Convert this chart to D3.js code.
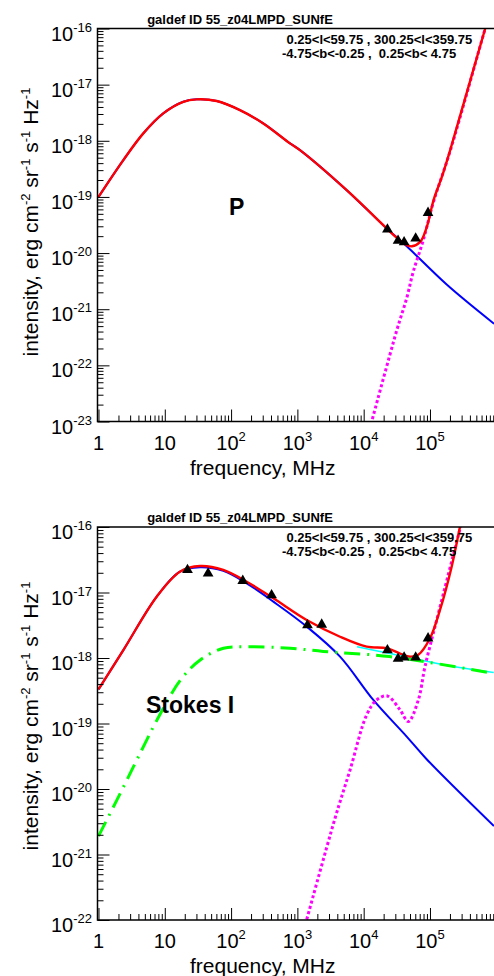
<!DOCTYPE html>
<html>
<head>
<meta charset="utf-8">
<script src="https://cdn.jsdelivr.net/npm/d3@7"></script>
<style>
  body { margin: 0; background: #fff; }
  svg { display: block; font-family: "Liberation Sans", Arial, Helvetica, sans-serif; }
  text { white-space: pre; }
</style>
</head>
<body>
<svg id="chart" width="494" height="976"></svg>
<script>
// frequency axis (MHz) tick labels: [base, exponent]
var freqTicks = [1, 10, 100, 1e3, 1e4, 1e5];
var freqTickLabels = [["1", ""], ["10", ""], ["10", "2"], ["10", "3"], ["10", "4"], ["10", "5"]];

// intensity axis exponents for each panel
var pExponents = [-23, -22, -21, -20, -19, -18, -17, -16];
var iExponents = [-22, -21, -20, -19, -18, -17, -16];

// header texts
var titleText = "galdef ID 55_z04LMPD_SUNfE";
var regionLine1 = "0.25<l<59.75 , 300.25<l<359.75";
var regionLine2 = "-4.75<b<-0.25 ,  0.25<b< 4.75";

// measured points, polarized (WMAP bands)
var pDataFreq = [22800, 33000, 40700, 60800, 93500];
var pDataVal = [2.64e-20, 1.66e-20, 1.56e-20, 1.82e-20, 5.21e-20];

// measured points, Stokes I (radio surveys + WMAP)
var iDataFreq = [22, 45, 150, 408, 1420, 2326, 22800, 33000, 40700, 60800, 93500];
var iDataVal = [2.21e-17, 1.96e-17, 1.51e-17, 9.12e-18, 3.16e-18, 3.24e-18, 1.32e-18, 9.77e-19, 1.02e-18, 1.02e-18, 2.0e-18];

// P panel: synchrotron (blue)
var pSyncFreq = [1, 2.37, 4.74, 9.49, 19.0, 30.3, 60.7, 136, 306, 773, 1094, 5546, 22230, 44570, 178600, 926800];
var pSyncVal = [1.0e-19, 4.53e-19, 1.355e-18, 3.08e-18, 4.95e-18, 5.47e-18, 5.11e-18, 3.52e-18, 2.04e-18, 8.99e-19, 6.82e-19, 1.32e-19, 2.75e-20, 1.32e-20, 2.75e-21, 5.50e-22];

// P panel: dust (magenta dotted)
var pDustFreq = [12880, 31480, 44570, 55980, 79250, 112200, 201800, 680800, 724000];
var pDustVal = [8.91e-24, 4.17e-22, 1.58e-21, 4.68e-21, 1.70e-20, 7.94e-20, 6.61e-19, 1.0e-16, 1.26e-16];

// P panel: total (red)
var pTotalFreq = [1, 2.37, 4.74, 9.49, 19.0, 30.3, 60.7, 136, 306, 773, 1094, 5546, 22230, 31620, 44670, 53330, 71120, 89740, 113000, 151400, 201800, 680800, 724000];
var pTotalVal = [1.0e-19, 4.53e-19, 1.355e-18, 3.08e-18, 4.95e-18, 5.47e-18, 5.11e-18, 3.52e-18, 2.04e-18, 8.99e-19, 6.82e-19, 1.32e-19, 2.75e-20, 1.86e-20, 1.38e-20, 1.32e-20, 1.58e-20, 2.95e-20, 8.71e-20, 2.29e-19, 6.82e-19, 1.0e-16, 1.26e-16];

// Stokes I panel: synchrotron (blue)
var iSyncFreq = [1, 2.37, 7.55, 16.9, 34.0, 76.2, 172, 434, 1380, 4400, 13960, 44570, 89130, 922600];
var iSyncVal = [3.31e-19, 1.32e-18, 8.63e-18, 2.08e-17, 2.43e-17, 2.14e-17, 1.38e-17, 7.24e-18, 3.02e-18, 1.05e-18, 2.29e-19, 6.31e-20, 2.85e-20, 2.72e-21];

// Stokes I panel: free-free (green dash-dot)
var iFreeFreq = [1, 1.89, 3.37, 5.06, 7.59, 17.1, 34.2, 76.7, 173, 776, 2455, 24550, 912000];
var iFreeVal = [1.91e-21, 6.76e-21, 2.19e-20, 5.01e-20, 1.12e-19, 4.57e-19, 9.33e-19, 1.41e-18, 1.48e-18, 1.41e-18, 1.26e-18, 1.05e-18, 5.82e-19];

// Stokes I panel: high-frequency component (cyan)
var iCyanFreq = [7943, 24950, 223900, 912000];
var iCyanVal = [1.48e-18, 1.17e-18, 7.41e-19, 6.03e-19];

// Stokes I panel: dust (magenta dotted)
var iDustFreq = [1318, 3690, 6223, 11090, 15700, 22700, 35320, 47100, 66680, 84140, 126200, 288400, 309000];
var iDustVal = [8.5e-23, 3.55e-21, 1.95e-20, 1.35e-19, 2.29e-19, 2.63e-19, 1.62e-19, 1.07e-19, 2.29e-19, 7.41e-19, 3.80e-18, 1.0e-16, 1.32e-16];

// Stokes I panel: total (red)
var iTotalFreq = [1, 2.37, 7.55, 16.9, 34.0, 76.2, 172, 434, 1380, 4400, 11090, 22230, 35400, 50120, 66680, 100000, 141600, 212300, 283100, 302000];
var iTotalVal = [3.31e-19, 1.32e-18, 8.63e-18, 2.08e-17, 2.54e-17, 2.21e-17, 1.46e-17, 8.15e-18, 3.80e-18, 2.11e-18, 1.49e-18, 1.41e-18, 1.17e-18, 1.05e-18, 1.12e-18, 2.0e-18, 5.41e-18, 2.48e-17, 1.0e-16, 1.32e-16];

var svg = d3.select("#chart");
var left = 97.5, right = 494.5;

var x = d3.scaleLog()
    .domain([0.966, 9.4e5])
    .range([left, right]);

function zip(fs, vs) {
    return fs.map(function(f, i) { return [f, vs[i]]; });
}

// text with a superscript part
function powerText(g, px, py, base, sup, anchor, size, supSize, raise) {
    var t = g.append("text")
        .attr("x", px)
        .attr("y", py)
        .attr("text-anchor", anchor)
        .style("font-size", size + "px");
    t.append("tspan").text(base);
    if (sup) {
        t.append("tspan").attr("dy", -raise).style("font-size", supSize + "px").text(sup);
    }
    return t;
}

function drawPanel(cfg) {
    var g = svg.append("g");
    var y = d3.scaleLog()
        .domain([cfg.yMin, cfg.yMax])
        .range([cfg.bottom, cfg.top]);

    var clipId = "clip" + cfg.id;
    svg.append("clipPath").attr("id", clipId)
        .append("rect")
        .attr("x", left).attr("y", cfg.top)
        .attr("width", right - left).attr("height", cfg.bottom - cfg.top);

    var line = d3.line()
        .x(function(d) { return x(d[0]); })
        .y(function(d) { return y(d[1]); })
        .curve(d3.curveCatmullRom.alpha(0.5));

    var curves = g.append("g").attr("clip-path", "url(#" + clipId + ")");
    cfg.curves.forEach(function(c) {
        curves.append("path")
            .datum(zip(c.f, c.v))
            .attr("d", line)
            .attr("fill", "none")
            .attr("stroke", c.color)
            .attr("stroke-width", c.width)
            .attr("stroke-dasharray", c.dash || null);
    });

    // data triangles
    g.selectAll(".pt")
        .data(zip(cfg.dataF, cfg.dataV))
        .enter().append("path")
        .attr("class", "pt")
        .attr("d", d3.symbol().type(d3.symbolTriangle).size(50))
        .attr("transform", function(d) { return "translate(" + x(d[0]) + "," + y(d[1]) + ")"; })
        .attr("fill", "black");

    // ticks on y axis (inside)
    var yAll = y.ticks();
    var yMajor = yAll.filter(function(v) { return Math.abs(Math.log10(v) - Math.round(Math.log10(v))) < 1e-6; });
    var yMinor = yAll.filter(function(v) { return yMajor.indexOf(v) < 0; });
    g.append("g").attr("transform", "translate(" + left + ",0)")
        .call(d3.axisRight(y).tickValues(yMinor).tickSize(6).tickFormat(""))
        .call(function(a) { a.select(".domain").remove(); });
    g.append("g").attr("transform", "translate(" + left + ",0)")
        .call(d3.axisRight(y).tickValues(yMajor).tickSize(12).tickFormat(""))
        .call(function(a) { a.select(".domain").remove(); });

    // ticks on x axis (inside)
    var xAll = x.ticks();
    var xMinor = xAll.filter(function(v) { return freqTicks.indexOf(v) < 0; });
    g.append("g").attr("transform", "translate(0," + cfg.bottom + ")")
        .call(d3.axisTop(x).tickValues(xMinor).tickSize(6).tickFormat(""))
        .call(function(a) { a.select(".domain").remove(); });
    g.append("g").attr("transform", "translate(0," + cfg.bottom + ")")
        .call(d3.axisTop(x).tickValues(freqTicks).tickSize(12).tickFormat(""))
        .call(function(a) { a.select(".domain").remove(); });
    g.selectAll(".tick line").attr("stroke", "#000").attr("stroke-width", 1);

    // frame
    g.append("path")
        .attr("d", "M" + right + "," + cfg.top + "H" + left + "V" + cfg.bottom + "H" + right)
        .attr("fill", "none")
        .attr("stroke", "#000")
        .attr("stroke-width", 1.5);

    // y tick labels
    cfg.exponents.forEach(function(e) {
        powerText(g, 92, y(Math.pow(10, e)) + 12, "10", String(e), "end", 20, 13, 9);
    });

    // x tick labels
    freqTicks.forEach(function(f, i) {
        powerText(g, x(f), cfg.bottom + 28, freqTickLabels[i][0], freqTickLabels[i][1], "middle", 20, 13, 9);
    });

    // axis titles
    g.append("text")
        .attr("x", x(300))
        .attr("y", cfg.bottom + 53)
        .attr("text-anchor", "middle")
        .style("font-size", "21px")
        .text("frequency, MHz");

    var yt = g.append("text")
        .attr("transform", "translate(38," + cfg.titleY + ") rotate(-90)")
        .attr("text-anchor", "middle")
        .style("font-size", "21px");
    var parts = [["intensity, erg cm", "-2"], [" sr", "-1"], [" s", "-1"], [" Hz", "-1"]];
    parts.forEach(function(p, i) {
        yt.append("tspan").attr("dy", i === 0 ? 0 : 8).text(p[0]);
        yt.append("tspan").attr("dy", -8).style("font-size", "13px").text(p[1]);
    });

    // header
    g.append("text")
        .attr("x", 240).attr("y", cfg.top - 5)
        .attr("text-anchor", "middle")
        .style("font-size", "13px").style("font-weight", "bold")
        .text(titleText);
    g.append("text")
        .attr("x", 286.5).attr("y", cfg.top + 15)
        .style("font-size", "13px").style("font-weight", "bold")
        .text(regionLine1);
    g.append("text")
        .attr("x", 282).attr("y", cfg.top + 29)
        .style("font-size", "13px").style("font-weight", "bold")
        .text(regionLine2);

    // panel label
    g.append("text")
        .attr("x", cfg.labelX).attr("y", cfg.labelY)
        .style("font-size", "23px").style("font-weight", "bold")
        .text(cfg.label);
}

drawPanel({
    id: "P", top: 28.5, bottom: 421.5, yMin: 1e-23, yMax: 1e-16,
    exponents: pExponents, titleY: 222, label: "P", labelX: 229, labelY: 215,
    dataF: pDataFreq, dataV: pDataVal,
    curves: [
        { f: pSyncFreq, v: pSyncVal, color: "#0000ff", width: 2 },
        { f: pDustFreq, v: pDustVal, color: "#ff00ff", width: 3, dash: "3,2.5" },
        { f: pTotalFreq, v: pTotalVal, color: "#ff0000", width: 2.4 }
    ]
});

drawPanel({
    id: "I", top: 527, bottom: 920, yMin: 1e-22, yMax: 1e-16,
    exponents: iExponents, titleY: 716, label: "Stokes I", labelX: 146, labelY: 713,
    dataF: iDataFreq, dataV: iDataVal,
    curves: [
        { f: iSyncFreq, v: iSyncVal, color: "#0000ff", width: 2 },
        { f: iCyanFreq, v: iCyanVal, color: "#00ffff", width: 1.5 },
        { f: iFreeFreq, v: iFreeVal, color: "#00ff00", width: 3, dash: "16,7,2,7" },
        { f: iDustFreq, v: iDustVal, color: "#ff00ff", width: 3, dash: "3,2.5" },
        { f: iTotalFreq, v: iTotalVal, color: "#ff0000", width: 2.4 }
    ]
});
</script>
</body>
</html>
